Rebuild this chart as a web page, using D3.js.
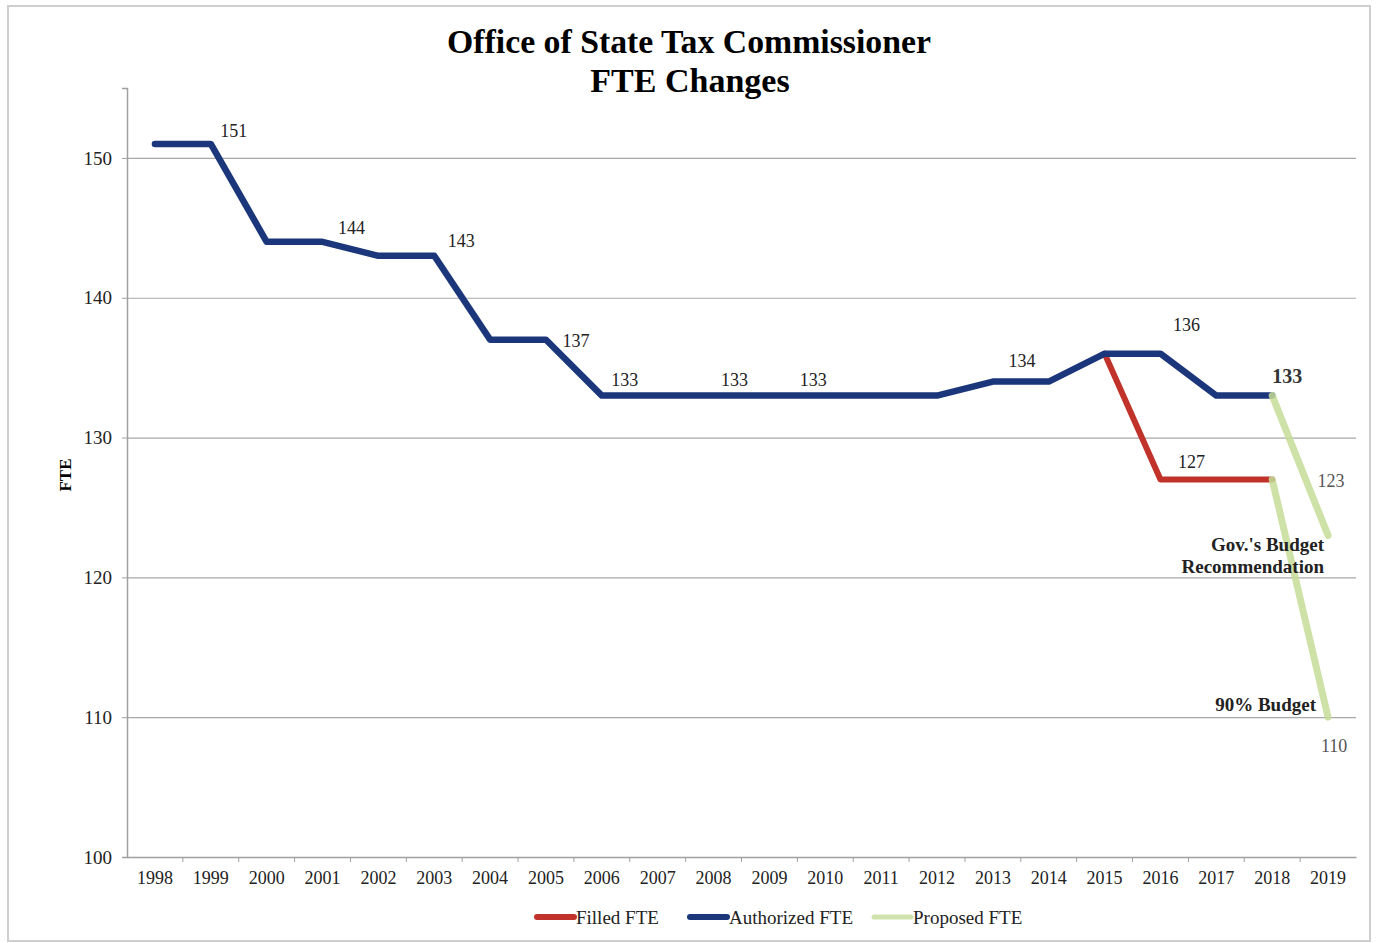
<!DOCTYPE html>
<html>
<head>
<meta charset="utf-8">
<script src="https://cdn.jsdelivr.net/npm/d3@7"></script>
<style>
  body { margin: 0; background: #fff; }
  svg { display: block; font-family: "Liberation Serif", "Times New Roman", serif; }
</style>
</head>
<body>
<div id="chart"></div>
<script>
// data
const years = d3.range(1998, 2020).map(String);
const authorizedYears = ["1998","1999","2000","2001","2002","2003","2004","2005","2006","2007","2008","2009","2010","2011","2012","2013","2014","2015","2016","2017","2018"];
const authorizedFTE = [151,151,144,144,143,143,137,137,133,133,133,133,133,133,133,134,134,136,136,133,133];
const filledYears = ["2015","2016","2017","2018"];
const filledFTE = [136,127,127,127];
const proposedGovYears = ["2018","2019"];
const proposedGovFTE = [133,123];
const proposed90Years = ["2018","2019"];
const proposed90FTE = [127,110];
const yTicks = [100,110,120,130,140,150];

// value labels: [year, value, dx, dy, bold]
const valueLabels = [
  ["1999",151,23,-13,false],
  ["2001",144,29,-14,false],
  ["2003",143,27,-15,false],
  ["2005",137,30,1,false],
  ["2006",133,23,-16,false],
  ["2008",133,21,-16,false],
  ["2010",133,-12,-16,false],
  ["2013",134,29,-21,false],
  ["2016",136,26,-29,false],
  ["2018",133,15,-20,true],
  ["2016",127,31,-18,false],
];
const proposedLabels = [
  ["2019",123,3,-55],
  ["2019",110,6,29],
];

const W = 1376, H = 943;
const margin = { top: 88, right: 20, bottom: 86, left: 127 };
const plotW = 1356 - margin.left;
const plotH = 857 - margin.top;

const colors = { filled: "#c0322a", authorized: "#1b367a", proposed: "#c6dc98" };

const svg = d3.select("#chart").append("svg")
  .attr("width", W).attr("height", H);

// outer border
svg.append("rect")
  .attr("x", 8).attr("y", 6).attr("width", 1362).attr("height", 935)
  .attr("fill", "#fff").attr("stroke", "#cfcfcf").attr("stroke-width", 2);

const g = svg.append("g").attr("transform", `translate(${margin.left},${margin.top})`);

const x = d3.scaleBand().domain(years).range([0, plotW]);
const y = d3.scaleLinear().domain([100, 155]).range([plotH, 0]);
const cx = (yr) => x(yr) + x.bandwidth() / 2;

// title
svg.append("text")
  .attr("x", 689).attr("y", 53)
  .attr("text-anchor", "middle")
  .attr("font-size", 34).attr("font-weight", "bold")
  .attr("textLength", 484).attr("lengthAdjust", "spacingAndGlyphs")
  .text("Office of State Tax Commissioner");
svg.append("text")
  .attr("x", 690).attr("y", 92)
  .attr("text-anchor", "middle")
  .attr("font-size", 34).attr("font-weight", "bold")
  .text("FTE Changes");

// grid
g.append("g")
  .call(d3.axisLeft(y).tickValues(yTicks.filter((t) => t > 100)).tickSize(-plotW).tickFormat(""))
  .call((s) => s.select(".domain").remove())
  .call((s) => s.selectAll("line").attr("stroke", "#a8a8a8").attr("stroke-width", 1.2));

// y axis
g.append("g")
  .call(d3.axisLeft(y).tickValues(yTicks).tickSize(5).tickPadding(10))
  .call((s) => s.select(".domain").attr("stroke", "#a0a0a0").attr("stroke-width", 1.5))
  .call((s) => s.selectAll(".tick line").attr("stroke", "#a0a0a0"))
  .call((s) => s.selectAll("text").attr("font-size", 19).attr("fill", "#222")
    .attr("font-family", "Liberation Serif"));

// x axis
const xAxis = g.append("g").attr("transform", `translate(0,${plotH})`)
  .call(d3.axisBottom(x).tickSize(0).tickPadding(14))
  .call((s) => s.select(".domain").attr("stroke", "#a0a0a0").attr("stroke-width", 1.5))
  .call((s) => s.selectAll("text").attr("font-size", 18).attr("fill", "#222")
    .attr("font-family", "Liberation Serif"));
xAxis.selectAll(".bnd").data(years.slice(1)).enter().append("line")
  .attr("x1", (d) => x(d)).attr("x2", (d) => x(d))
  .attr("y1", 0).attr("y2", 5)
  .attr("stroke", "#a0a0a0");

// y label
svg.append("text")
  .attr("transform", "translate(71,475) rotate(-90)")
  .attr("text-anchor", "middle")
  .attr("font-size", 17).attr("font-weight", "bold")
  .text("FTE");

const line = d3.line().x((d) => cx(d[0])).y((d) => y(d[1]));
const zip = (a, b) => a.map((d, i) => [d, b[i]]);

function drawLine(pts, color, width, opacity) {
  g.append("path")
    .datum(pts)
    .attr("fill", "none")
    .attr("stroke", color)
    .attr("stroke-width", width)
    .attr("stroke-opacity", opacity)
    .attr("stroke-linejoin", "round")
    .attr("stroke-linecap", "round")
    .attr("d", line);
}

drawLine(zip(filledYears, filledFTE), colors.filled, 6, 1);
drawLine(zip(authorizedYears, authorizedFTE), colors.authorized, 6.5, 1);
drawLine(zip(proposedGovYears, proposedGovFTE), colors.proposed, 7, 0.85);
drawLine(zip(proposed90Years, proposed90FTE), colors.proposed, 7, 0.85);

// value labels
g.selectAll(".vlabel").data(valueLabels).enter().append("text")
  .attr("x", (d) => cx(d[0]) + d[2])
  .attr("y", (d) => y(d[1]) + d[3])
  .attr("dy", "0.35em")
  .attr("text-anchor", "middle")
  .attr("font-size", (d) => (d[4] ? 20 : 18))
  .attr("font-weight", (d) => (d[4] ? "bold" : "normal"))
  .attr("fill", (d) => (d[4] ? "#333" : "#222"))
  .text((d) => d[1]);

g.selectAll(".plabel").data(proposedLabels).enter().append("text")
  .attr("x", (d) => cx(d[0]) + d[2])
  .attr("y", (d) => y(d[1]) + d[3])
  .attr("dy", "0.35em")
  .attr("text-anchor", "middle")
  .attr("font-size", 18)
  .attr("fill", "#555")
  .text((d) => d[1]);

// annotations
const ann = [
  ["Gov.'s Budget", 1324, 544],
  ["Recommendation", 1324, 566],
  ["90% Budget", 1316, 704],
];
svg.selectAll(".ann").data(ann).enter().append("text")
  .attr("x", (d) => d[1]).attr("y", (d) => d[2])
  .attr("dy", "0.35em")
  .attr("text-anchor", "end")
  .attr("font-size", 19).attr("font-weight", "bold")
  .attr("fill", "#222")
  .text((d) => d[0]);

// legend
const legend = [
  ["Filled FTE", colors.filled, 537, 6, 1],
  ["Authorized FTE", colors.authorized, 690, 6, 1],
  ["Proposed FTE", colors.proposed, 874, 5, 0.8],
];
const lg = svg.selectAll(".lg").data(legend).enter().append("g")
  .attr("transform", (d) => `translate(${d[2]},917)`);
lg.append("line")
  .attr("x1", 0).attr("x2", 37)
  .attr("stroke", (d) => d[1])
  .attr("stroke-width", (d) => d[3])
  .attr("stroke-opacity", (d) => d[4])
  .attr("stroke-linecap", "round");
lg.append("text")
  .attr("x", 39).attr("dy", "0.35em")
  .attr("font-size", 19).attr("fill", "#222")
  .text((d) => d[0]);
</script>
</body>
</html>
